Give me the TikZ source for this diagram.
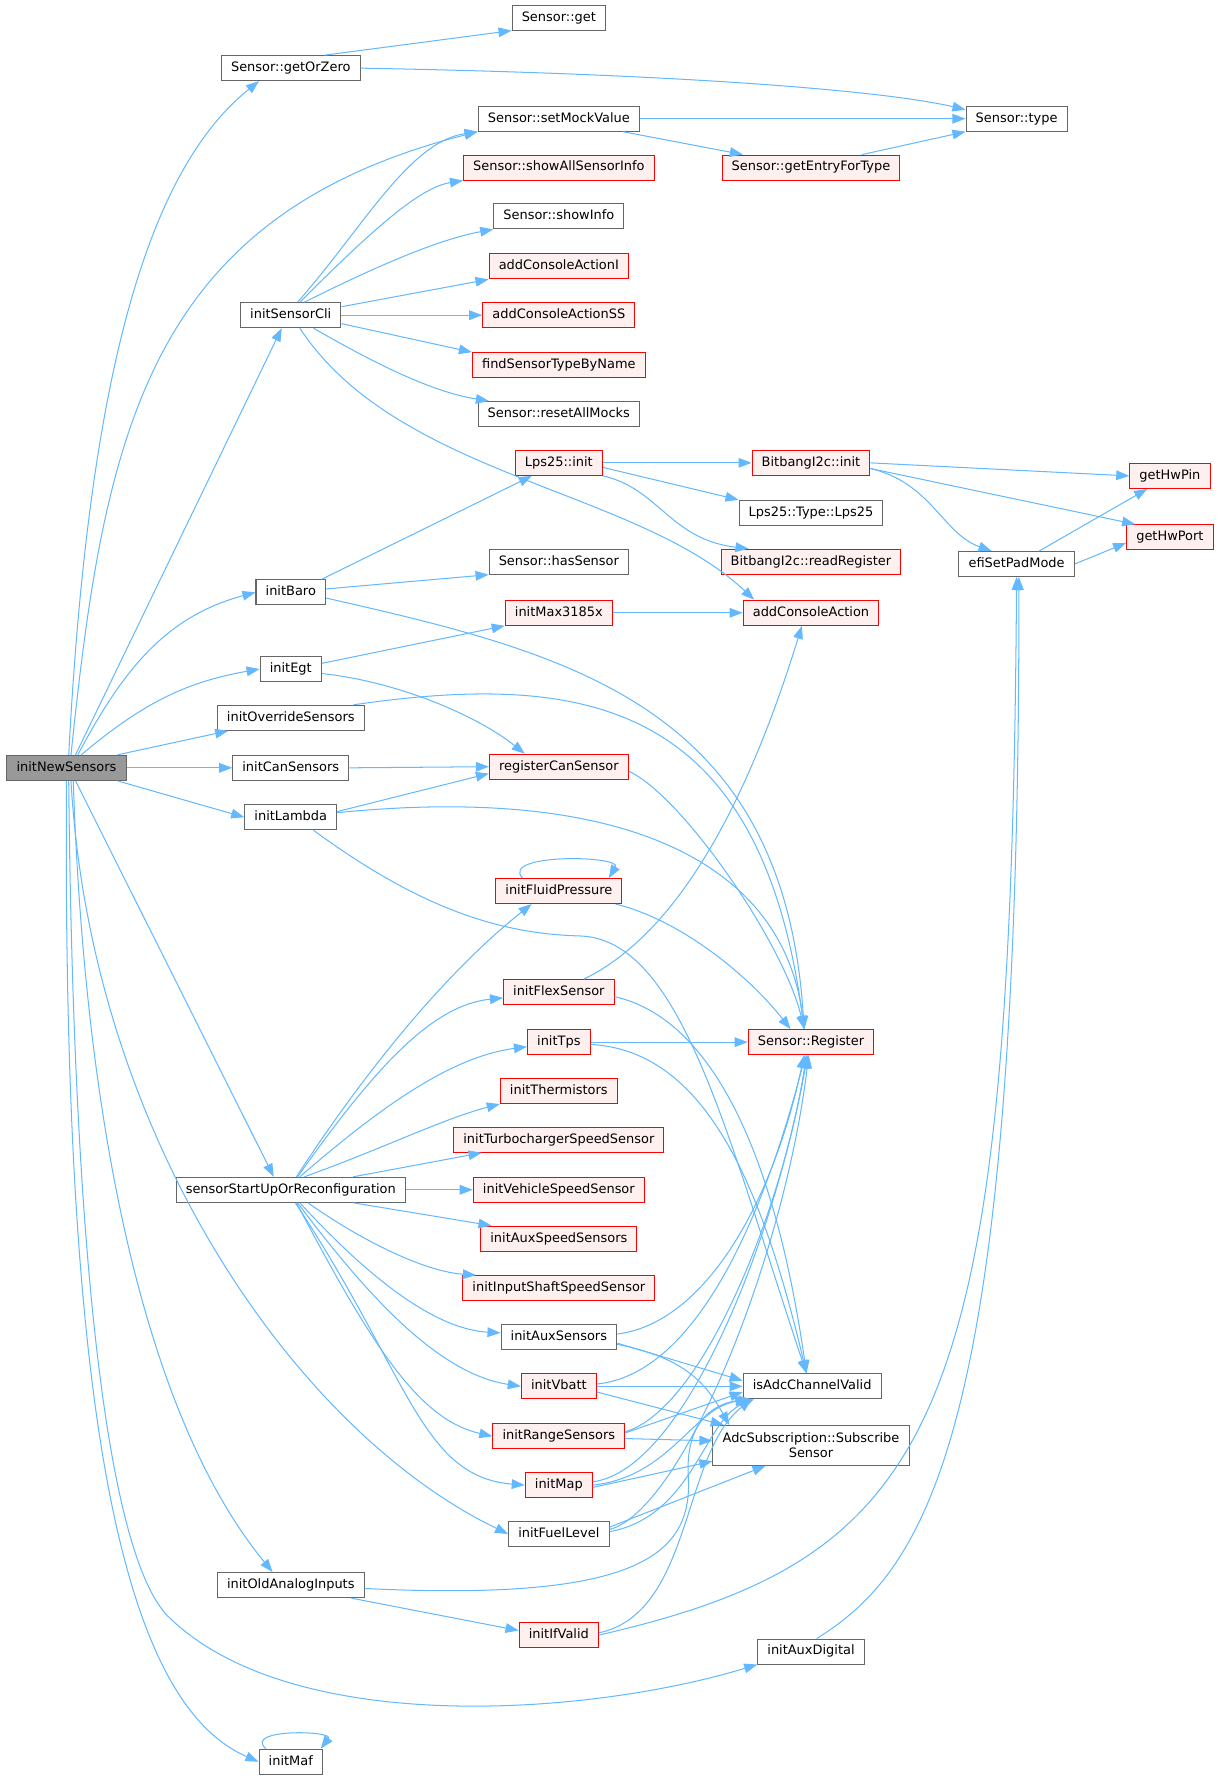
\documentclass[tikz,border=0pt]{standalone}
\usepackage{fontspec}
\setmainfont{DejaVu Sans}
\usepackage{tikz}
\usetikzlibrary{positioning, calc, arrows.meta}
\definecolor{callblue}{HTML}{63B8FF}
\definecolor{boxgray}{HTML}{666666}
\definecolor{rootgray}{HTML}{999999}
\definecolor{truncfill}{HTML}{FFF0F0}

\begin{document}
\begin{tikzpicture}[x=1pt,y=-1pt,
		base/.style={draw=boxgray, line width=0.9pt, fill=white, font=\fontsize{11.4}{13.6}\selectfont, inner xsep=8.5pt, inner ysep=3pt, minimum height=22pt},
		fn/.style={base, text height=8.5pt, text depth=2.5pt},
		trunc/.style={fn, draw=red, fill=truncfill},
		rootfn/.style={fn, fill=rootgray},
		call/.style={draw=callblue, line width=0.9pt, -{Triangle[length=11.5pt,width=8.5pt]}}]
	\useasboundingbox (0,0) rectangle (1075,1568);
	\node[rootfn] (root) at (58.5,676) {initNewSensors};
	\node[fn] (getOrZero) at (256,60) {Sensor::getOrZero};
	\node[fn] (get) at (492,15.5) {Sensor::get};
	\node[fn] (type) at (895,104.5) {Sensor::type};
	\node[fn] (setMock) at (492,104.5) {Sensor::setMockValue};
	\node[trunc] (entryType) at (714,147.5) {Sensor::getEntryForType};
	\node[trunc] (showAll) at (492,147.5) {Sensor::showAllSensorInfo};
	\node[fn] (showInfo) at (492,190.5) {Sensor::showInfo};
	\node[trunc] (actI) at (492,234.5) {addConsoleActionI};
	\node[trunc] (actSS) at (492,277.5) {addConsoleActionSS};
	\node[trunc] (findType) at (492,321.5) {findSensorTypeByName};
	\node[fn] (resetMocks) at (492,364.5) {Sensor::resetAllMocks};
	\node[fn] (sensorCli) at (256,277.5) {initSensorCli};
	\node[trunc] (lpsInit) at (492,407.5) {Lps25::init};
	\node[trunc] (bbInit) at (714,407.5) {BitbangI2c::init};
	\node[trunc] (hwPin) at (1030,419) {getHwPin};
	\node[trunc] (hwPort) at (1030,473) {getHwPort};
	\node[fn] (lpsType) at (714,451.5) {Lps25::Type::Lps25};
	\node[trunc] (readReg) at (714,494.5) {BitbangI2c::readRegister};
	\node[fn] (padMode) at (895,496.5) {efiSetPadMode};
	\node[fn] (hasSensor) at (492,494.5) {Sensor::hasSensor};
	\node[fn] (baro) at (256,521.5) {initBaro};
	\node[trunc] (max) at (492,539.5) {initMax3185x};
	\node[trunc] (action) at (714,539.5) {addConsoleAction};
	\node[fn] (egt) at (256,589) {initEgt};
	\node[fn] (override) at (256,632) {initOverrideSensors};
	\node[fn] (canSensors) at (256,676) {initCanSensors};
	\node[trunc] (canReg) at (492,675) {registerCanSensor};
	\node[fn] (lambda) at (256,719.5) {initLambda};
	\node[trunc] (fluid) at (492,784.5) {initFluidPressure};
	\node[trunc] (flex) at (492,873.5) {initFlexSensor};
	\node[trunc] (reg) at (714,917.5) {Sensor::Register};
	\node[trunc] (tps) at (492,917.5) {initTps};
	\node[trunc] (therm) at (492,960.5) {initThermistors};
	\node[trunc] (turbo) at (492,1003.5) {initTurbochargerSpeedSensor};
	\node[trunc] (vss) at (492,1047.5) {initVehicleSpeedSensor};
	\node[fn] (startUp) at (256,1047.5) {sensorStartUpOrReconfiguration};
	\node[trunc] (auxSpeed) at (492,1090.5) {initAuxSpeedSensors};
	\node[trunc] (shaft) at (492,1134) {initInputShaftSpeedSensor};
	\node[fn] (auxSensors) at (492,1177.5) {initAuxSensors};
	\node[fn] (adcValid) at (715,1220.5) {isAdcChannelValid};
	\node[trunc] (vbatt) at (492,1220.5) {initVbatt};
	\node[trunc] (range) at (492,1264.5) {initRangeSensors};
	\node[base, align=center, minimum height=35pt] (adcSub) at (714,1272.5) {AdcSubscription::Subscribe\\Sensor};
	\node[trunc] (map) at (492,1307.5) {initMap};
	\node[fn] (fuel) at (492,1350.5) {initFuelLevel};
	\node[fn] (oldAnalog) at (256,1395.5) {initOldAnalogInputs};
	\node[trunc] (ifValid) at (492,1439.5) {initIfValid};
	\node[fn] (auxDigital) at (714,1454) {initAuxDigital};
	\node[fn] (maf) at (256,1551) {initMaf};

	\draw[call] ([xshift=2pt]root.north) .. controls (78,330) and (130,150) .. ([xshift=-28pt]getOrZero.south);
	\draw[call] ([xshift=4pt]root.north) .. controls (92,380) and (130,190) .. (setMock.south west);
	\draw[call] ([xshift=8pt]root.north) -- ([xshift=-8pt]sensorCli.south);
	\draw[call] ([xshift=10pt]root.north) to[out=62,in=195] (baro.west);
	\draw[call] ([xshift=13pt]root.north) to[out=40,in=190] (egt.west);
	\draw[call] ([xshift=-8pt]root.north east) -- ([xshift=10pt]override.south west);
	\draw[call] (root.east) -- (canSensors.west);
	\draw[call] ([xshift=-8pt]root.south east) -- (lambda.west);
	\draw[call] ([xshift=8pt]root.south) -- ([xshift=-15pt]startUp.north);
	\draw[call] ([xshift=4pt]root.south) .. controls (80,1000) and (260,1260) .. (fuel.west);
	\draw[call] ([xshift=6pt]root.south) .. controls (75,1000) and (130,1250) .. ([xshift=-16pt]oldAnalog.north);
	\draw[call] ([xshift=2pt]root.south) .. controls (65,1150) and (100,1380) .. (150,1425) .. controls (260,1530) and (520,1510) .. (auxDigital.south west);
	\draw[call] (root.south) .. controls (55,1260) and (110,1500) .. (maf.west);
	\draw[call] ([xshift=-22pt]maf.north) .. controls +(-20,-18) and +(12,-16) .. ([xshift=-2pt]maf.north east);

	\draw[call] ([xshift=30pt]getOrZero.north) -- (get.south west);
	\draw[call] (getOrZero.east) .. controls (600,65) and (780,80) .. (type.170);
	\draw[call] (setMock.east) -- (type.west);
	\draw[call] ([xshift=-15pt]setMock.south east) -- ([xshift=-60pt]entryType.north);
	\draw[call] ([xshift=45pt]entryType.north) -- (type.south west);

	\draw[call] ([xshift=6pt]sensorCli.north) .. controls (320,200) and (360,125) .. (setMock.south west);
	\draw[call] ([xshift=8pt]sensorCli.north) .. controls (330,200) and (370,165) .. (showAll.south west);
	\draw[call] ([xshift=12pt]sensorCli.north) .. controls (340,230) and (390,210) .. (showInfo.south west);
	\draw[call] ([yshift=-4pt]sensorCli.north east) -- (actI.south west);
	\draw[call] (sensorCli.east) -- (actSS.west);
	\draw[call] ([yshift=4pt]sensorCli.south east) -- (findType.north west);
	\draw[call] ([xshift=20pt]sensorCli.south) .. controls (330,320) and (380,345) .. ([xshift=10pt]resetMocks.north west);
	\draw[call] ([xshift=8pt]sensorCli.south) .. controls (350,420) and (560,430) .. ([xshift=-50pt]action.north);

	\draw[call] ([xshift=-4pt]baro.north east) -- ([xshift=15pt]lpsInit.south west);
	\draw[call] ([yshift=3pt]baro.east) -- (hasSensor.south west);
	\draw[call] ([yshift=-5pt]baro.east) .. controls (500,575) and (690,620) .. ([xshift=-6pt]reg.north);
	\draw[call] (lpsInit.east) -- (bbInit.west);
	\draw[call] ([yshift=-4pt]lpsInit.east) -- (lpsType.north west);
	\draw[call] (lpsInit.south east) .. controls (580,430) and (590,475) .. ([xshift=-55pt]readReg.north);
	\draw[call] (bbInit.east) -- (hwPin.west);
	\draw[call] ([yshift=-5pt]bbInit.east) -- ([xshift=8pt]hwPort.north west);
	\draw[call] ([yshift=-5pt]bbInit.east) .. controls (820,425) and (830,470) .. ([xshift=-22pt]padMode.north);
	\draw[call] ([xshift=20pt]padMode.north) -- ([xshift=-20pt]hwPin.south);
	\draw[call] (padMode.east) -- ([yshift=-5pt]hwPort.west);

	\draw[call] (max.east) -- (action.west);
	\draw[call] ([yshift=5pt]egt.east) -- (max.south west);
	\draw[call] ([yshift=-4pt]egt.east) .. controls (350,600) and (420,630) .. ([xshift=-30pt]canReg.north);
	\draw[call] ([xshift=-10pt]override.north east) .. controls (520,590) and (670,620) .. ([xshift=-6pt]reg.north);
	\draw[call] (canSensors.east) -- (canReg.west);
	\draw[call] ([yshift=5pt]lambda.east) -- ([yshift=-6pt]canReg.west);
	\draw[call] ([yshift=4pt]lambda.east) .. controls (550,690) and (690,760) .. ([xshift=-6pt]reg.north);
	\draw[call] ([xshift=20pt]lambda.south) .. controls (370,800) and (440,822) .. (510,824) .. controls (600,826) and (640,1000) .. ([xshift=-5pt]adcValid.north);
	\draw[call] ([yshift=-4pt]canReg.east) .. controls (600,700) and (690,830) .. ([xshift=-6pt]reg.north);

	\draw[call] ([xshift=-32pt]fluid.north) .. controls +(-20,-22) and +(12,-20) .. ([xshift=-12pt]fluid.north east);
	\draw[call] ([xshift=-6pt]fluid.south east) .. controls (600,810) and (660,860) .. ([xshift=-18pt]reg.north);
	\draw[call] ([xshift=22pt]flex.north) .. controls (600,820) and (660,700) .. ([xshift=-8pt]action.south);
	\draw[call] ([yshift=-4pt]flex.east) .. controls (620,895) and (680,1000) .. ([xshift=-5pt]adcValid.north);
	\draw[call] (tps.east) -- (reg.west);
	\draw[call] ([yshift=-2pt]tps.east) .. controls (620,925) and (670,1040) .. ([xshift=-5pt]adcValid.north);

	\draw[call] ([xshift=5pt]startUp.north) .. controls (330,930) and (400,850) .. ([xshift=-24pt]fluid.south);
	\draw[call] ([xshift=6pt]startUp.north) .. controls (330,940) and (380,885) .. ([yshift=-5pt]flex.west);
	\draw[call] ([xshift=8pt]startUp.north) .. controls (340,970) and (400,930) .. ([yshift=-4pt]tps.west);
	\draw[call] ([xshift=12pt]startUp.north) .. controls (340,1010) and (390,985) .. (therm.south west);
	\draw[call] ([xshift=55pt]startUp.north) -- ([xshift=25pt]turbo.south west);
	\draw[call] (startUp.east) -- (vss.west);
	\draw[call] ([xshift=55pt]startUp.south) -- ([xshift=10pt]auxSpeed.north west);
	\draw[call] ([xshift=15pt]startUp.south) .. controls (330,1100) and (380,1120) .. ([xshift=12pt]shaft.north west);
	\draw[call] ([xshift=8pt]startUp.south) .. controls (320,1120) and (380,1170) .. ([yshift=4pt]auxSensors.west);
	\draw[call] ([xshift=6pt]startUp.south) .. controls (330,1150) and (390,1210) .. (vbatt.west);
	\draw[call] ([xshift=5pt]startUp.south) .. controls (330,1190) and (370,1250) .. (range.west);
	\draw[call] ([xshift=4pt]startUp.south) .. controls (360,1210) and (370,1300) .. (map.west);

	\draw[call] ([yshift=3pt]auxSensors.east) .. controls (620,1165) and (680,1060) .. ([xshift=-6pt]reg.south);
	\draw[call] ([yshift=-5pt]auxSensors.east) -- ([yshift=5pt]adcValid.west);
	\draw[call] ([yshift=-6pt]auxSensors.east) .. controls (600,1195) and (620,1215) .. ([xshift=-72pt]adcSub.north);
	\draw[call] ([yshift=2pt]vbatt.east) .. controls (610,1210) and (670,1080) .. ([xshift=-5pt]reg.south);
	\draw[call] (vbatt.east) -- (adcValid.west);
	\draw[call] ([yshift=-5pt]vbatt.east) -- ([xshift=10pt]adcSub.north west);
	\draw[call] ([yshift=4pt]range.east) .. controls (620,1240) and (690,1060) .. ([xshift=-4pt]reg.south);
	\draw[call] ([yshift=3pt]range.east) -- ([yshift=-5pt]adcValid.west);
	\draw[call] ([yshift=-2pt]range.east) -- ([yshift=4pt]adcSub.west);
	\draw[call] ([yshift=3pt]map.east) .. controls (600,1295) and (680,1100) .. ([xshift=-3pt]reg.south);
	\draw[call] (map.east) .. controls (590,1300) and (610,1240) .. ([xshift=5pt]adcValid.south west);
	\draw[call] ([yshift=-2pt]map.east) -- ([yshift=4pt]adcSub.south west);
	\draw[call] ([yshift=4pt]fuel.east) .. controls (600,1330) and (690,1110) .. ([xshift=-2pt]reg.south);
	\draw[call] ([yshift=2pt]fuel.east) .. controls (610,1335) and (620,1250) .. ([xshift=10pt]adcValid.south west);
	\draw[call] ([yshift=6pt]fuel.east) -- ([xshift=-40pt]adcSub.south);

	\draw[call] ([yshift=-3pt]oldAnalog.east) .. controls (560,1410) and (610,1370) .. (606,1300) .. controls (603,1250) and (630,1235) .. ([xshift=8pt]adcValid.south west);
	\draw[call] ([xshift=-12pt]oldAnalog.south east) -- ([yshift=4pt]ifValid.west);
	\draw[call] ([yshift=2pt]ifValid.east) .. controls (610,1420) and (600,1280) .. ([xshift=8pt]adcValid.south west);
	\draw[call] (ifValid.east) .. controls (830,1370) and (890,1250) .. (padMode.south);
	\draw[call] ([xshift=5pt]auxDigital.north) .. controls (820,1380) and (898,1250) .. ([xshift=2pt]padMode.south);
\end{tikzpicture}
\end{document}
